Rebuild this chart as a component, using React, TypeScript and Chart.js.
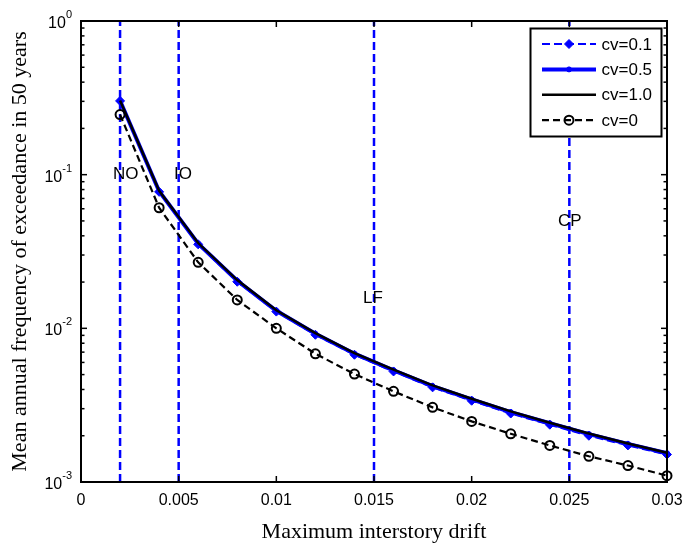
import React, { useEffect, useRef } from 'react';
import { Chart, registerables } from 'chart.js';

Chart.register(...registerables);

// ---------- data ----------
const DRIFT = [0.002, 0.004, 0.006, 0.008, 0.01, 0.012, 0.014, 0.016, 0.018, 0.02, 0.022, 0.024, 0.026, 0.028, 0.03];
const CV01 = [0.302, 0.0773, 0.0352, 0.0201, 0.01285, 0.00908, 0.00673, 0.00524, 0.00413, 0.00338, 0.00279, 0.00236, 0.002, 0.00173, 0.00151];
const CV05 = [0.303, 0.078, 0.0356, 0.0204, 0.013, 0.00922, 0.00684, 0.00533, 0.00421, 0.00345, 0.00285, 0.00241, 0.00205, 0.00177, 0.00154];
const CV10 = [0.304, 0.0785, 0.0359, 0.0206, 0.0131, 0.0093, 0.0069, 0.00538, 0.00425, 0.00348, 0.00288, 0.00243, 0.00207, 0.00178, 0.00155];
const CV0 = [0.246, 0.0609, 0.0269, 0.0153, 0.01, 0.00683, 0.00504, 0.00389, 0.00306, 0.00248, 0.00206, 0.00173, 0.00147, 0.00128, 0.0011];
const SERIES_NAMES = ['cv=0.1', 'cv=0.5', 'cv=1.0', 'cv=0'];

const LIMIT_X = [0.002, 0.005, 0.015, 0.025];
const LIMIT_LABELS = ['NO', 'IO', 'LF', 'CP'];
const LIMIT_LABEL_X = [0.00164, 0.00476, 0.01444, 0.02442];
const LIMIT_LABEL_Y = [0.1, 0.1, 0.0157, 0.0494];

const X_MIN = 0;
const X_MAX = 0.03;
const Y_MIN = 0.001;
const Y_MAX = 1;
const X_TICKS = [0, 0.005, 0.01, 0.015, 0.02, 0.025, 0.03];
const X_TICK_LABELS = ['0', '0.005', '0.01', '0.015', '0.02', '0.025', '0.03'];
const Y_TICKS = [1, 0.1, 0.01, 0.001];
const Y_TICK_EXP = ['0', '-1', '-2', '-3'];
const Y_MINOR_MULT = [2, 3, 4, 5, 6, 7, 8, 9];
const Y_DECADES = [0.001, 0.01, 0.1];

const X_TITLE = 'Maximum interstory drift';
const Y_TITLE = 'Mean annual frequency of exceedance in 50 years';

const BLUE = '#0000ff';
const SANS = '"Liberation Sans", Arial, sans-serif';
const SERIF = '"Liberation Serif", "Times New Roman", serif';

function drawMarker(ctx: CanvasRenderingContext2D, ds: any, x: number, y: number) {
  const r = ds.pointRadius;
  if (!r) return;
  ctx.save();
  ctx.setLineDash([]);
  ctx.lineWidth = ds.pointBorderWidth;
  ctx.strokeStyle = ds.pointBorderColor;
  ctx.fillStyle = ds.pointBackgroundColor;
  ctx.beginPath();
  if (ds.pointStyle === 'rectRot') {
    ctx.moveTo(x, y - r);
    ctx.lineTo(x + r, y);
    ctx.lineTo(x, y + r);
    ctx.lineTo(x - r, y);
    ctx.closePath();
  } else {
    ctx.arc(x, y, r, 0, Math.PI * 2);
  }
  ctx.fill();
  ctx.stroke();
  ctx.restore();
}

const decorPlugin = {
  id: 'decor',
  afterDraw(chart: any) {
    const { ctx, chartArea: a, scales } = chart;
    const xs = scales.x;
    const ys = scales.y;
    ctx.save();

    // limit labels
    ctx.fillStyle = '#000';
    ctx.font = `17px ${SANS}`;
    ctx.textAlign = 'left';
    ctx.textBaseline = 'middle';
    LIMIT_LABELS.forEach((t, i) => {
      ctx.fillText(t, xs.getPixelForValue(LIMIT_LABEL_X[i]), ys.getPixelForValue(LIMIT_LABEL_Y[i]));
    });

    // box
    ctx.setLineDash([]);
    ctx.strokeStyle = '#000';
    ctx.lineWidth = 2;
    ctx.strokeRect(a.left, a.top, a.right - a.left, a.bottom - a.top);

    // ticks
    ctx.lineWidth = 1.5;
    const seg = (x1: number, y1: number, x2: number, y2: number) => {
      ctx.beginPath();
      ctx.moveTo(x1, y1);
      ctx.lineTo(x2, y2);
      ctx.stroke();
    };
    X_TICKS.forEach((v) => {
      const px = xs.getPixelForValue(v);
      seg(px, a.bottom, px, a.bottom - 6);
      seg(px, a.top, px, a.top + 6);
    });
    Y_TICKS.forEach((v) => {
      const py = ys.getPixelForValue(v);
      seg(a.left, py, a.left + 6, py);
      seg(a.right, py, a.right - 6, py);
    });
    Y_DECADES.forEach((d) => {
      Y_MINOR_MULT.forEach((m) => {
        const py = ys.getPixelForValue(d * m);
        seg(a.left, py, a.left + 3.5, py);
        seg(a.right, py, a.right - 3.5, py);
      });
    });

    // x tick labels
    ctx.fillStyle = '#000';
    ctx.font = `16px ${SANS}`;
    ctx.textAlign = 'center';
    ctx.textBaseline = 'alphabetic';
    X_TICKS.forEach((v, i) => {
      ctx.fillText(X_TICK_LABELS[i], xs.getPixelForValue(v), a.bottom + 23);
    });

    // y tick labels 10^n
    const rightEdge = a.left - 9;
    Y_TICKS.forEach((v, i) => {
      const py = ys.getPixelForValue(v);
      ctx.textAlign = 'right';
      ctx.font = `11px ${SANS}`;
      const ew = ctx.measureText(Y_TICK_EXP[i]).width;
      ctx.fillText(Y_TICK_EXP[i], rightEdge, py - 3);
      ctx.font = `16px ${SANS}`;
      ctx.fillText('10', rightEdge - ew, py + 7);
    });

    // axis titles
    ctx.font = `22px ${SERIF}`;
    ctx.textAlign = 'center';
    ctx.textBaseline = 'alphabetic';
    ctx.fillText(X_TITLE, (a.left + a.right) / 2, a.bottom + 56);
    ctx.save();
    ctx.translate(26, (a.top + a.bottom) / 2);
    ctx.rotate(-Math.PI / 2);
    ctx.fillText(Y_TITLE, 0, 0);
    ctx.restore();

    // legend
    const L = { left: 530.5, top: 28.5, w: 131, h: 108 };
    ctx.fillStyle = '#fff';
    ctx.fillRect(L.left, L.top, L.w, L.h);
    ctx.strokeStyle = '#000';
    ctx.lineWidth = 2;
    ctx.strokeRect(L.left, L.top, L.w, L.h);
    const series = chart.data.datasets.slice(0, 4);
    series.forEach((ds: any, i: number) => {
      const yRow = L.top + 15.5 + i * 25.4;
      ctx.save();
      ctx.strokeStyle = ds.borderColor;
      ctx.lineWidth = ds.borderWidth;
      ctx.setLineDash(ds.borderDash || []);
      ctx.beginPath();
      ctx.moveTo(L.left + 11.5, yRow);
      ctx.lineTo(L.left + 65.5, yRow);
      ctx.stroke();
      ctx.restore();
      drawMarker(ctx, ds, L.left + 38.5, yRow);
      ctx.fillStyle = '#000';
      ctx.font = `17px ${SANS}`;
      ctx.textAlign = 'left';
      ctx.textBaseline = 'middle';
      ctx.fillText(SERIES_NAMES[i], L.left + 71, yRow + 1);
    });

    ctx.restore();
  },
};

export default function App() {
  const ref = useRef<HTMLCanvasElement>(null);

  useEffect(() => {
    const pts = (ys: number[]) => DRIFT.map((x, i) => ({ x, y: ys[i] }));
    const limitSets = LIMIT_X.map((x) => ({
      label: 'limit',
      data: [
        { x, y: Y_MIN },
        { x, y: Y_MAX },
      ],
      borderColor: BLUE,
      borderWidth: 2.5,
      borderDash: [8, 4],
      pointRadius: 0,
      order: 5,
    }));
    const chart = new Chart(ref.current as HTMLCanvasElement, {
      type: 'line',
      data: {
        datasets: [
          {
            label: SERIES_NAMES[0],
            data: pts(CV01),
            borderColor: BLUE,
            borderWidth: 2,
            borderDash: [8, 4],
            pointStyle: 'rectRot',
            pointRadius: 4.5,
            pointBackgroundColor: BLUE,
            pointBorderColor: BLUE,
            pointBorderWidth: 1,
            order: 3,
            clip: false,
          },
          {
            label: SERIES_NAMES[1],
            data: pts(CV05),
            borderColor: BLUE,
            borderWidth: 4,
            pointStyle: 'circle',
            pointRadius: 2.5,
            pointBackgroundColor: BLUE,
            pointBorderColor: BLUE,
            pointBorderWidth: 1,
            order: 2,
            clip: false,
          },
          {
            label: SERIES_NAMES[2],
            data: pts(CV10),
            borderColor: '#000',
            borderWidth: 2.5,
            pointRadius: 0,
            order: 1,
            clip: false,
          },
          {
            label: SERIES_NAMES[3],
            data: pts(CV0),
            borderColor: '#000',
            borderWidth: 2.2,
            borderDash: [7, 4],
            pointStyle: 'circle',
            pointRadius: 4.5,
            pointBackgroundColor: 'rgba(0,0,0,0)',
            pointBorderColor: '#000',
            pointBorderWidth: 2,
            order: 0,
            clip: false,
          },
          ...limitSets,
        ] as any,
      },
      options: {
        animation: false,
        responsive: false,
        devicePixelRatio: 1,
        layout: { padding: { left: 81, right: 18, top: 21, bottom: 65 }, autoPadding: false } as any,
        elements: { line: { tension: 0 } },
        scales: {
          x: { type: 'linear', min: X_MIN, max: X_MAX, display: false },
          y: { type: 'logarithmic', min: Y_MIN, max: Y_MAX, display: false },
        },
        plugins: { legend: { display: false }, tooltip: { enabled: false } },
      },
      plugins: [decorPlugin],
    });
    return () => chart.destroy();
  }, []);

  return (
    <div style={{ position: 'fixed', left: 0, top: 0, width: 685, height: 547, background: '#fff' }}>
      <canvas ref={ref} width={685} height={547} style={{ display: 'block', width: 685, height: 547 }} />
    </div>
  );
}
